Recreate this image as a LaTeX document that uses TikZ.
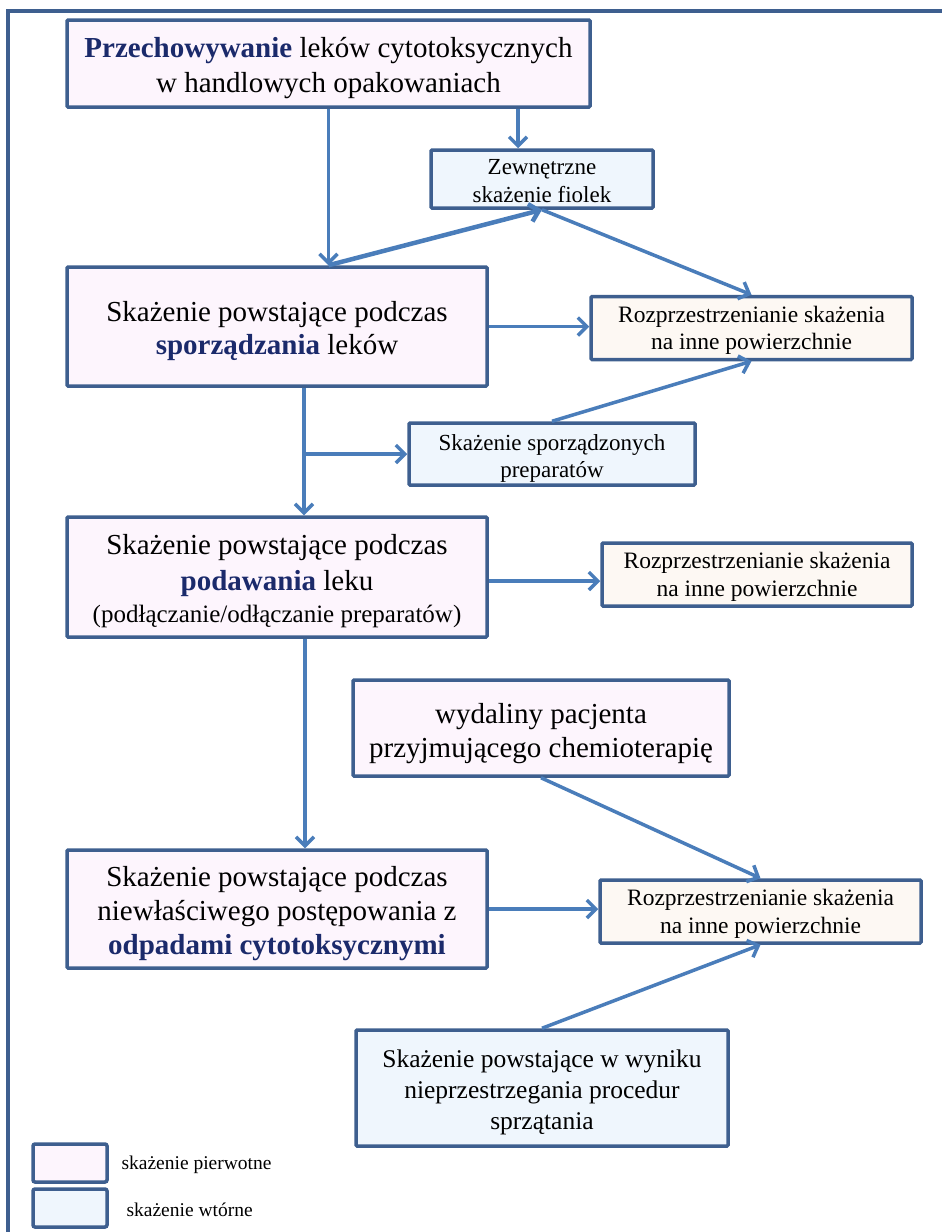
\documentclass[tikz,border=0pt]{standalone}
\usepackage{fontspec}
\setmainfont{Liberation Serif}
\usetikzlibrary{arrows.meta}
\definecolor{edge}{HTML}{3E5F8F}
\definecolor{flow}{HTML}{4A7DBA}
\definecolor{primfill}{HTML}{FDF5FD}
\definecolor{secfill}{HTML}{EFF6FD}
\definecolor{spreadfill}{HTML}{FDF8F3}
\definecolor{keyword}{HTML}{1B2A6B}
\newcommand{\kw}[1]{\textbf{\color{keyword}#1}}
\newcommand{\fsz}[2]{\fontsize{#1}{#2}\selectfont}
% extra headroom on a first line, so the text block sits a little lower in its box
\newcommand{\dn}[1]{\raisebox{#1}{\vphantom{h}}}

\begin{document}
\begin{tikzpicture}[x=1pt,y=-1pt,
  box/.style={draw=edge, line width=3.5pt, rounded corners=1pt, inner sep=0pt, align=center},
  primary/.style={box, fill=primfill},
  secondary/.style={box, fill=secfill},
  spread/.style={box, fill=spreadfill, font=\fsz{23.5}{27.5}, minimum height=63pt},
  arr/.style={draw=flow, line width=3.5pt, -{Straight Barb[length=9pt,width=18pt]}},
  heavy/.style={arr, line width=4.5pt},
  frame/.style={draw=edge, line width=3.5pt},
  keytext/.style={anchor=west, font=\fsz{19.5}{23}}
]
\useasboundingbox (0,0) rectangle (942,1232);

% outer frame (open to the right and bottom)
\draw[frame] (8,1232) -- (8,11) -- (942,11);

% main column
\node[primary, minimum width=523pt, minimum height=87pt, font=\fsz{29}{35}] (store) at (328.5,63.5)
  {\dn{9pt}\kw{Przechowywanie} leków cytotoksycznych\\w handlowych opakowaniach};
\node[primary, minimum width=420pt, minimum height=119pt, font=\fsz{29}{33}] (prep) at (277,326.5)
  {\dn{9pt}Skażenie powstające podczas\\\kw{sporządzania} leków};
\node[primary, minimum width=420pt, minimum height=120pt, font=\fsz{29}{36}] (admin) at (277,577)
  {\dn{8pt}Skażenie powstające podczas\\\kw{podawania} leku\\[-4pt]{\fsz{25}{31}(podłączanie/odłączanie preparatów)}};
\node[primary, minimum width=420pt, minimum height=118pt, font=\fsz{29}{34}] (waste) at (277,909)
  {\dn{9pt}Skażenie powstające podczas\\niewłaściwego postępowania z\\\kw{odpadami cytotoksycznymi}};

% secondary sources
\node[secondary, minimum width=222pt, minimum height=58pt, font=\fsz{23}{28}] (vials) at (542,179)
  {\dn{4pt}Zewnętrzne\\skażenie fiolek};
\node[secondary, minimum width=286pt, minimum height=62pt, font=\fsz{23}{27}] (ready) at (552,454)
  {\dn{8pt}Skażenie sporządzonych\\preparatów};
\node[primary, minimum width=376pt, minimum height=96pt, font=\fsz{29}{34}] (excreta) at (541,728)
  {\dn{11pt}wydaliny pacjenta\\przyjmującego chemioterapię};
\node[secondary, minimum width=372pt, minimum height=116pt, font=\fsz{25.5}{31}] (clean) at (542,1088)
  {\dn{9pt}Skażenie powstające w wyniku\\nieprzestrzegania procedur\\sprzątania};

% spreading boxes
\node[spread, minimum width=321pt] (spreadA) at (751.5,328) {\dn{5pt}Rozprzestrzenianie skażenia\\na inne powierzchnie};
\node[spread, minimum width=310pt] (spreadB) at (757,574.5) {\dn{5pt}Rozprzestrzenianie skażenia\\na inne powierzchnie};
\node[spread, minimum width=321pt] (spreadC) at (760.5,911.5) {\dn{5pt}Rozprzestrzenianie skażenia\\na inne powierzchnie};

% legend
\node[primary, minimum width=74pt, minimum height=38pt, rounded corners=2pt] (keyA) at (70,1163) {};
\node[secondary, minimum width=74pt, minimum height=38pt, rounded corners=2pt] (keyB) at (70,1208) {};
\node[keytext] (keyAtxt) at (118,1165) {skażenie pierwotne};
\node[keytext] (keyBtxt) at (123,1210) {skażenie wtórne};

% connectors
\coordinate (prepIn) at (store.south |- prep.north);
\draw[arr] (store.south) -- (prepIn);
\coordinate (vialsDrop) at ([xshift=-24pt]vials.north);
\draw[arr] (vialsDrop |- store.south) -- (vialsDrop);
\draw[heavy] (prepIn) -- (vials.south);
\draw[arr] (vials.south) -- (spreadA.north);
\draw[arr] (prep.east) -- (prep.east -| spreadA.west);

\coordinate (trunkA) at ([xshift=27pt]prep.south);
\draw[arr] (trunkA) -- (trunkA |- admin.north);
\draw[arr] (trunkA |- ready.west) -- (ready.west);
\draw[arr] (ready.north) -- (spreadA.south);

\draw[arr] ([yshift=-4pt]admin.east) -- ([yshift=-4pt]admin.east -| spreadB.west);

\coordinate (trunkB) at ([xshift=28pt]admin.south);
\draw[arr] (trunkB) -- (trunkB |- waste.north);

\draw[arr] (excreta.south) -- (spreadC.north);
\draw[arr] (waste.east) -- (waste.east -| spreadC.west);
\draw[arr] (clean.north) -- (spreadC.south);
\end{tikzpicture}
\end{document}
